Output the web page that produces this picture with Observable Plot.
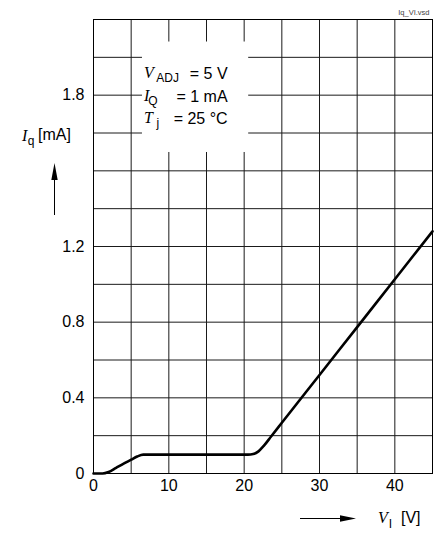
<!DOCTYPE html>
<html>
<head>
<meta charset="utf-8">
<script src="https://cdn.jsdelivr.net/npm/d3@7"></script>
<script src="https://cdn.jsdelivr.net/npm/@observablehq/plot@0.6"></script>
<style>
  html, body { margin: 0; padding: 0; background: #ffffff; }
  #chart svg { display: block; }
</style>
</head>
<body>
<div id="chart"></div>
<script>
// ---- data ----
const inputVoltage     = [0, 1.2, 2, 3, 4, 5, 5.8, 6.6, 10, 15, 20.5, 21.2, 21.9, 22.6, 23.6, 25, 30, 35, 40, 45];
const quiescentCurrent = [0, 0, 0.008, 0.03, 0.052, 0.073, 0.09, 0.1, 0.1, 0.1, 0.1, 0.103, 0.117, 0.146, 0.197, 0.268, 0.521, 0.774, 1.027, 1.28];

const xTickValues = [0, 10, 20, 30, 40];
const xGridValues = [0, 5, 10, 15, 20, 25, 30, 35, 40, 45];
const yTickValues = [0, 0.4, 0.8, 1.2, 2.0];
const yTickLabels = ["0", "0.4", "0.8", "1.2", "1.8"];
const yGridValues = [0, 0.2, 0.4, 0.6, 0.8, 1.0, 1.2, 1.4, 1.6, 1.8, 2.0, 2.2, 2.4];

const noteSymbols    = ["V", "I", "T"];
const noteSubscripts = ["ADJ", "Q", "j"];
const noteValues     = ["= 5 V", "= 1 mA", "= 25 °C"];

const xAxisSymbol = "V", xAxisSubscript = "I", xAxisUnit = "[V]";
const yAxisSymbol = "I", yAxisSubscript = "q", yAxisUnit = "[mA]";
const fileTag = "Iq_VI.vsd";

// ---- build ----
const curveData = inputVoltage.map((v, i) => ({v, iq: quiescentCurrent[i]}));

const SANS = "'Liberation Sans', Arial, Helvetica, sans-serif";
const SERIF = "'Liberation Serif', 'Times New Roman', serif";

// annotation placement (data coordinates)
const noteX = 6.77, noteRight = 17.87;
const noteY = [2.09, 1.969, 1.85];
const noteBox = [{x1: 6.5, x2: 20.6, y1: 1.697, y2: 2.281}];

const chart = Plot.plot({
  width: 438,
  height: 533,
  marginLeft: 93,
  marginRight: 6,
  marginTop: 19,
  marginBottom: 60,
  style: {fontFamily: SANS, fontSize: "16px", color: "black", background: "white", overflow: "visible"},
  x: {domain: [0, 45]},
  y: {domain: [0, 2.4]},
  marks: [
    Plot.gridX(xGridValues, {stroke: "#1a1a1a", strokeOpacity: 1, strokeWidth: 1}),
    Plot.gridY(yGridValues, {stroke: "#1a1a1a", strokeOpacity: 1, strokeWidth: 1}),
    Plot.rect(noteBox, {x1: "x1", x2: "x2", y1: "y1", y2: "y2", fill: "white"}),
    Plot.frame({stroke: "black", strokeWidth: 1}),
    Plot.line(curveData, {x: "v", y: "iq", curve: "monotone-x", stroke: "black", strokeWidth: 2.6}),
    Plot.axisX(xTickValues, {tickSize: 0, tickPadding: 6, label: null, fontSize: 16, fill: "black"}),
    Plot.axisY(yTickValues, {tickSize: 0, tickPadding: 9, label: null, fontSize: 16, fill: "black",
      tickFormat: d => yTickLabels[yTickValues.indexOf(d)]})
  ]
});

document.getElementById("chart").append(chart);

const svg = d3.select(chart);
const sx = chart.scale("x"), sy = chart.scale("y");
const g = svg.append("g").attr("text-anchor", "start");

// annotation with subscripts
const subDx = [2.5, -1, 3.5];
noteSymbols.forEach((sym, i) => {
  const t = g.append("text")
    .attr("x", sx.apply(noteX))
    .attr("y", sy.apply(noteY[i]))
    .attr("text-anchor", "start")
    .attr("fill", "black");
  t.append("tspan").attr("font-family", SERIF).attr("font-style", "italic").attr("font-size", 16).text(sym);
  t.append("tspan").attr("font-family", SANS).attr("font-size", 12).attr("dx", subDx[i]).attr("dy", 4).text(noteSubscripts[i]);
  g.append("text")
    .attr("x", sx.apply(noteRight))
    .attr("y", sy.apply(noteY[i]) + 1)
    .attr("text-anchor", "end")
    .attr("font-family", SANS).attr("font-size", 16).attr("fill", "black")
    .text(noteValues[i]);
});

// axis labels and arrows (placed in the margins relative to the frame)
const left = 93, bottom = 473;
const yl = g.append("text").attr("x", left - 71).attr("y", 141).attr("text-anchor", "start").attr("fill", "black");
yl.append("tspan").attr("font-family", SERIF).attr("font-style", "italic").attr("font-size", 16).text(yAxisSymbol);
yl.append("tspan").attr("font-family", SANS).attr("font-size", 12).attr("dx", 0.5).attr("dy", 4).text(yAxisSubscript);
g.append("text").attr("x", left - 55).attr("y", 140).attr("text-anchor", "start")
  .attr("font-family", SANS).attr("font-size", 16).attr("fill", "black").text(yAxisUnit);

g.append("line").attr("x1", 54.5).attr("x2", 54.5).attr("y1", 215).attr("y2", 176).attr("stroke", "black").attr("stroke-width", 1);
g.append("path").attr("d", "M54.5,163 L51.3,180 L57.7,180 Z").attr("fill", "black");

const xl = g.append("text").attr("x", 378).attr("y", bottom + 50).attr("text-anchor", "start").attr("fill", "black");
xl.append("tspan").attr("font-family", SERIF).attr("font-style", "italic").attr("font-size", 16).text(xAxisSymbol);
xl.append("tspan").attr("font-family", SANS).attr("font-size", 12).attr("dx", 1).attr("dy", 5).text(xAxisSubscript);
g.append("text").attr("x", 401).attr("y", bottom + 50).attr("text-anchor", "start")
  .attr("font-family", SANS).attr("font-size", 16).attr("fill", "black").text(xAxisUnit);

g.append("line").attr("x1", 300).attr("x2", 342).attr("y1", 518.5).attr("y2", 518.5).attr("stroke", "black").attr("stroke-width", 1);
g.append("path").attr("d", "M356,518.5 L340,515.3 L340,521.7 Z").attr("fill", "black");

g.append("text").attr("x", 429.5).attr("y", 15).attr("text-anchor", "end")
  .attr("font-family", SANS).attr("font-size", 7.5).attr("fill", "#444").text(fileTag);
</script>
</body>
</html>
